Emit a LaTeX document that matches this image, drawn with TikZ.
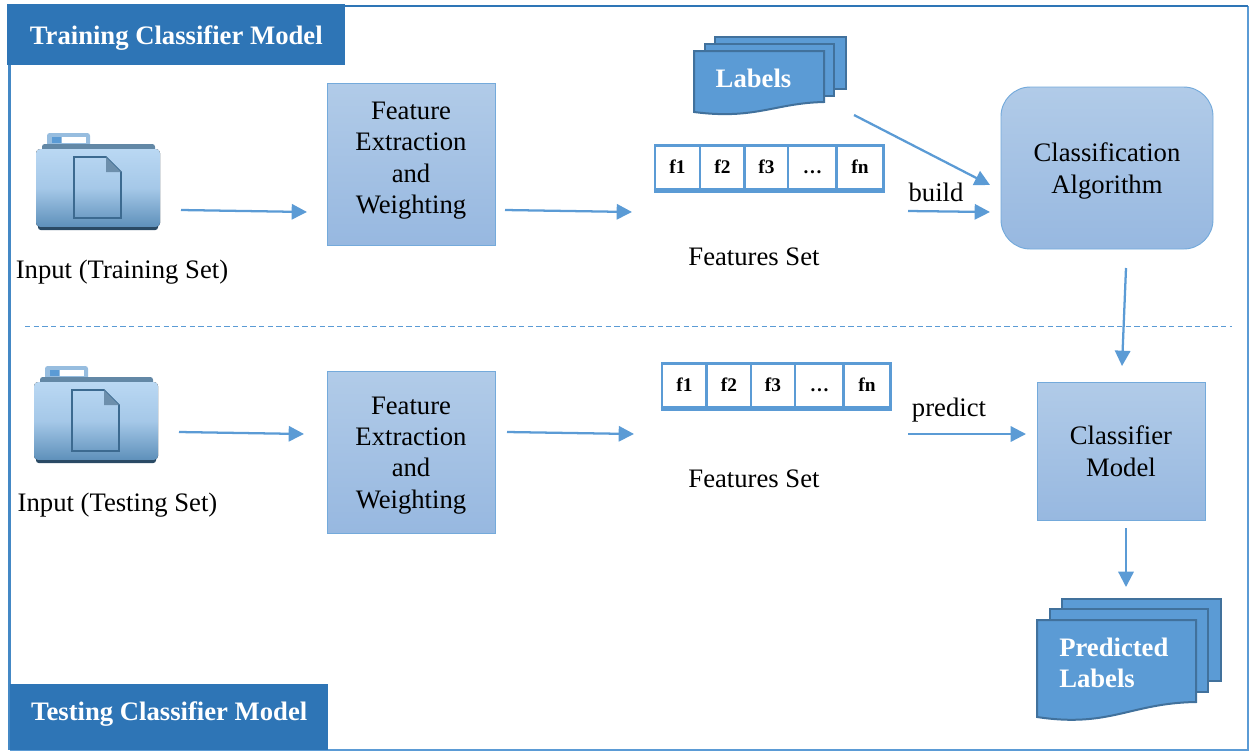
\documentclass[tikz,border=0pt]{standalone}
\usepackage{fontspec}
\setmainfont{Liberation Serif}
\usetikzlibrary{arrows.meta,calc}
\definecolor{lineblue}{HTML}{5B9BD5}
\definecolor{darkblue}{HTML}{2E75B6}
\definecolor{edgeblue}{HTML}{41719C}
\definecolor{boxtop}{HTML}{B1CBE8}
\definecolor{boxbot}{HTML}{97B8E0}
\definecolor{foldtop}{HTML}{BAD8F3}
\definecolor{foldmid}{HTML}{A5C8E8}
\definecolor{foldbot}{HTML}{5E90BA}
\definecolor{foldline}{HTML}{3C6A90}
\tikzset{
  txt/.style={font=\fontsize{20}{23.6}\selectfont, align=center, text=black, inner sep=0pt},
  banner/.style={fill=darkblue, text=white, font=\fontsize{20}{23.6}\selectfont\bfseries, inner sep=0pt},
  featbox/.style={txt, draw=lineblue!85!white, line width=0.7pt, top color=boxtop, bottom color=boxbot, minimum width=126pt, minimum height=121pt},
  cell/.style={draw=lineblue, line width=2pt, fill=white, font=\fontsize{14.5}{16}\selectfont\bfseries, minimum height=33pt, inner sep=0pt, text height=9.5pt, text depth=0pt},
  sheet/.style={draw=edgeblue, line width=1.5pt, fill=lineblue},
  doctxt/.style={text=white, font=\fontsize{20}{23}\selectfont\bfseries, align=left, inner sep=0pt},
  flow/.style={-{Triangle[length=11.5pt,width=11.5pt]}, draw=lineblue, line width=1.7pt},
  foldernode/.style={minimum width=93pt, minimum height=74pt, inner sep=0pt},
  folder/.pic={
    \fill[rounded corners=2pt, fill=foldmid!80!foldbot] (-51,-49) rectangle (-8,-32);
    \fill[white] (-36,-45) rectangle (-12,-39);
    \fill[lineblue] (-46,-45) rectangle (-37,-39);
    \fill[rounded corners=2pt, fill=foldline!80!white] (-56,-38) rectangle (57,-25);
    \fill[rounded corners=2pt, fill=foldline!70!black] (-60,-10) rectangle (60,48);
    \fill[rounded corners=3pt, top color=foldtop, bottom color=foldbot, middle color=foldmid] (-62,-33) rectangle (62,45);
    \draw[foldline, line width=1.2pt] (-24,-25) -- (8,-25) -- (23,-10) -- (23,36) -- (-24,36) -- cycle;
    \fill[foldline!75!white] (8,-25) -- (23,-10) -- (8,-10) -- cycle;
  }
}
\begin{document}
\begin{tikzpicture}[x=0.75pt, y=-0.75pt]
\useasboundingbox (0,0) rectangle (1249,751);
% frame
\draw[draw=lineblue, line width=1pt] (10,750) -- (1248,750) -- (1248,6);
\draw[draw=darkblue, line width=2.2pt] (345,6) -- (1248,6);
\draw[draw=darkblue!50!lineblue, line width=2.4pt] (9.5,60) -- (9.5,750);
\node[banner, text height=19pt, minimum width=253.5pt, minimum height=45.75pt, anchor=north west] (trainbanner) at (7,4) {Training Classifier Model};
\node[banner, text depth=9pt, minimum width=238.5pt, minimum height=49.5pt, anchor=north west] (testbanner) at (10,684) {Testing Classifier Model};
\draw[draw=lineblue, line width=0.7pt, dash pattern=on 4pt off 2.5pt] (25,326) -- (1232,326);
% upper row
\node[foldernode] (inA) at (98,182) {};
\pic at (inA) {folder};
\node[txt] (inAtxt) at (122,272) {Input (Training Set)};
\node[featbox, text depth=10pt] (feA) at (411,164.5) {Feature\\Extraction\\and\\Weighting};
\node[cell, minimum width=34pt] (a1) at (677.5,167.5) {f1};
\node[cell, minimum width=34pt] (a2) at (722.5,167.5) {f2};
\node[cell, minimum width=33pt] (a3) at (766.5,167.5) {f3};
\node[cell, minimum width=37pt] (a4) at (812.5,167.5) {…};
\node[cell, minimum width=35pt] (a5) at (860,167.5) {fn};
\draw[draw=lineblue, line width=3pt] (a1.south west) -- (a5.south east);
\node[txt] (setA) at (754,257) {Features Set};
\node[txt] (buildtxt) at (936,192) {build};
\draw[sheet] (715,37) -- (846,37) -- (846,89) -- (715,89) -- cycle;
\draw[sheet] (705,44) -- (834,44) -- (834,96) -- (705,96) -- cycle;
\draw[sheet] (694,51) -- (824,51) -- (824,102) .. controls (775,103) and (755,120) .. (694,112) -- cycle;
\node[doctxt] (labelstxt) at (753.5,78) {Labels};
\node[txt, text depth=-2pt, draw=lineblue!85!white, line width=0.7pt, rounded corners=22pt, top color=boxtop, bottom color=boxbot, minimum width=159pt, minimum height=121.5pt] (algo) at (1107,168) {Classification\\Algorithm};
% lower row
\node[foldernode] (inB) at (96,415) {};
\pic at (inB) {folder};
\node[txt] (inBtxt) at (117.5,505) {Input (Testing Set)};
\node[featbox, text depth=-2.5pt] (feB) at (411,452.5) {Feature\\Extraction\\and\\Weighting};
\node[cell, minimum width=34pt] (b1) at (684.5,385.5) {f1};
\node[cell, minimum width=34pt] (b2) at (729,385.5) {f2};
\node[cell, minimum width=33pt] (b3) at (773,385.5) {f3};
\node[cell, minimum width=37pt] (b4) at (819.5,385.5) {…};
\node[cell, minimum width=35pt] (b5) at (867,385.5) {fn};
\draw[draw=lineblue, line width=3pt] (b1.south west) -- (b5.south east);
\node[txt] (setB) at (754,479) {Features Set};
\node[txt] (predicttxt) at (949,410) {predict};
\node[featbox, minimum width=126pt, minimum height=103.5pt] (model) at (1121,451) {Classifier\\Model};
\draw[sheet] (1062,599) -- (1221,599) -- (1221,681) -- (1062,681) -- cycle;
\draw[sheet] (1050,609) -- (1208,609) -- (1208,692) -- (1050,692) -- cycle;
\draw[sheet] (1037,620) -- (1196,620) -- (1196,702) .. controls (1130,703) and (1110,728) .. (1037,717) -- cycle;
\node[doctxt, anchor=west] (predtxt) at (1059,663) {Predicted\\Labels};
\coordinate (predtop) at (1126,587);
% arrows
\draw[flow] ($(inA.center)+(83,28)$) -- ($(feA.center)+(-104,47.5)$);
\draw[flow] ($(feA.center)+(94,45.5)$) -- ($(a1.center)+(-45.5,44.5)$);
\draw[flow] ($(labelstxt.center)+(100.5,37)$) -- ($(algo.center)+(-117,17)$);
\draw[flow] ($(a5.center)+(48,43.5)$) -- ($(algo.center)+(-117,44)$);
\draw[flow] ($(algo.center)+(19,100)$) -- ($(model.center)+(1,-85)$);
\draw[flow] ($(inB.center)+(83,17)$) -- ($(feB.center)+(-107,-18.5)$);
\draw[flow] ($(feB.center)+(96,-20.5)$) -- ($(b1.center)+(-50.5,48.5)$);
\draw[flow] ($(b5.center)+(41,48.5)$) -- ($(model.center)+(-95,-17)$);
\draw[flow] ($(model.center)+(5,77)$) -- (predtop);
\end{tikzpicture}
\end{document}
